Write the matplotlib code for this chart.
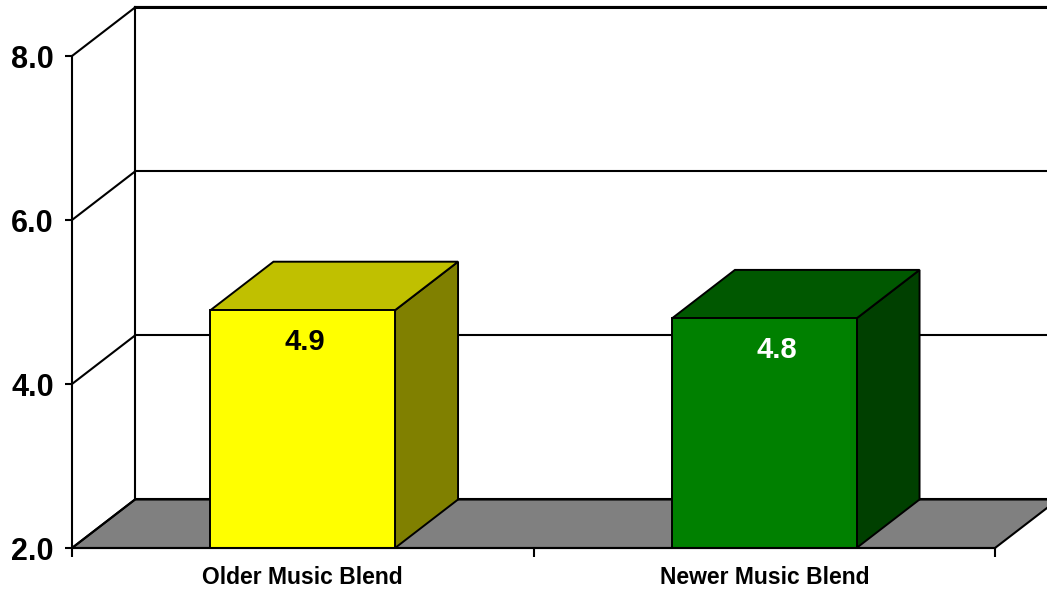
import matplotlib
matplotlib.use("Agg")
import matplotlib.pyplot as plt
from matplotlib.patches import Polygon

plt.rcParams["font.family"] = ["Liberation Sans", "DejaVu Sans"]
plt.rcParams["font.weight"] = "bold"

categories = ["Older Music Blend", "Newer Music Blend"]
values = [4.9, 4.8]
value_labels = ["4.9", "4.8"]
yticks = [2.0, 4.0, 6.0, 8.0]

# colours per bar: front, top, side, label
bar_colours = [
    ("#ffff00", "#c0c000", "#808000", "black"),
    ("#008000", "#005800", "#004000", "white"),
]
# horizontal nudge of each value label, points (the source is not centred)
label_nudge = [1.8, 9.0]

Y_MIN, Y_MAX = 2.0, 8.0
BAR_WIDTH = 0.4
# 3d depth of the plot box, in data units
DX = 0.1365
DY = 0.5915
LW = 1.5
EDGE_LW = 1.4

fig = plt.figure(figsize=(10.47, 5.92), dpi=100)
ax = fig.add_axes([72 / 1047, 44 / 592, 923 / 1047, 492 / 592])
ax.set_xlim(0, len(categories))
ax.set_ylim(Y_MIN, Y_MAX)
ax.patch.set_visible(False)
for side in ["top", "right"]:
    ax.spines[side].set_visible(False)
ax.spines["left"].set_linewidth(LW)
ax.spines["bottom"].set_linewidth(LW)
ax.spines["left"].set_zorder(6)
ax.spines["bottom"].set_zorder(6)

# y axis
ax.set_yticks(yticks)
ax.set_yticklabels([f"{t:.1f}" for t in yticks], fontsize=22, fontweight="bold")
ax.tick_params(axis="y", direction="out", length=5, width=LW, pad=8)

# x axis: major ticks at category borders, labels at centres
n = len(categories)
ax.set_xticks(range(n + 1))
ax.set_xticklabels([])
ax.set_xticks([i + 0.5 for i in range(n)], minor=True)
ax.set_xticklabels(categories, minor=True, fontsize=16.5, fontweight="bold")
ax.tick_params(axis="x", which="major", direction="out", length=6.5, width=LW)
ax.tick_params(axis="x", which="minor", length=0, pad=13)

# floor
floor = Polygon([(0, Y_MIN), (n, Y_MIN), (n + DX, Y_MIN + DY), (DX, Y_MIN + DY)],
                closed=True, facecolor="#808080", edgecolor="black", lw=LW,
                clip_on=False, zorder=1)
ax.add_patch(floor)

# back wall gridlines and side wall diagonals
for t in yticks:
    ax.plot([DX, n + DX + 1], [t + DY, t + DY], color="black", lw=LW,
            clip_on=False, zorder=2)
    ax.plot([0, DX], [t, t + DY], color="black", lw=LW, clip_on=False, zorder=2)
ax.plot([DX, DX], [Y_MIN + DY, Y_MAX + DY], color="black", lw=LW,
        clip_on=False, zorder=2)
ax.plot([DX, n + DX + 1], [Y_MAX + DY, Y_MAX + DY], color="black", lw=2.2,
        clip_on=False, zorder=2)

# 3d bars
for i, (v, lab, cols) in enumerate(zip(values, value_labels, bar_colours)):
    front_c, top_c, side_c, text_c = cols
    x0 = i + 0.5 - BAR_WIDTH / 2
    x1 = i + 0.5 + BAR_WIDTH / 2
    faces = [
        ([(x1, Y_MIN), (x1 + DX, Y_MIN + DY), (x1 + DX, v + DY), (x1, v)], side_c),
        ([(x0, v), (x1, v), (x1 + DX, v + DY), (x0 + DX, v + DY)], top_c),
        ([(x0, Y_MIN), (x1, Y_MIN), (x1, v), (x0, v)], front_c),
    ]
    for pts, c in faces:
        ax.add_patch(Polygon(pts, closed=True, facecolor=c, edgecolor="black",
                             lw=EDGE_LW, joinstyle="miter", clip_on=False, zorder=4))
    ax.annotate(lab, (i + 0.5, v), xytext=(label_nudge[i], -22.8),
                textcoords="offset points", ha="center", va="center",
                fontsize=21, fontweight="bold", color=text_c, zorder=5)

fig.savefig("out.png", dpi=100)
